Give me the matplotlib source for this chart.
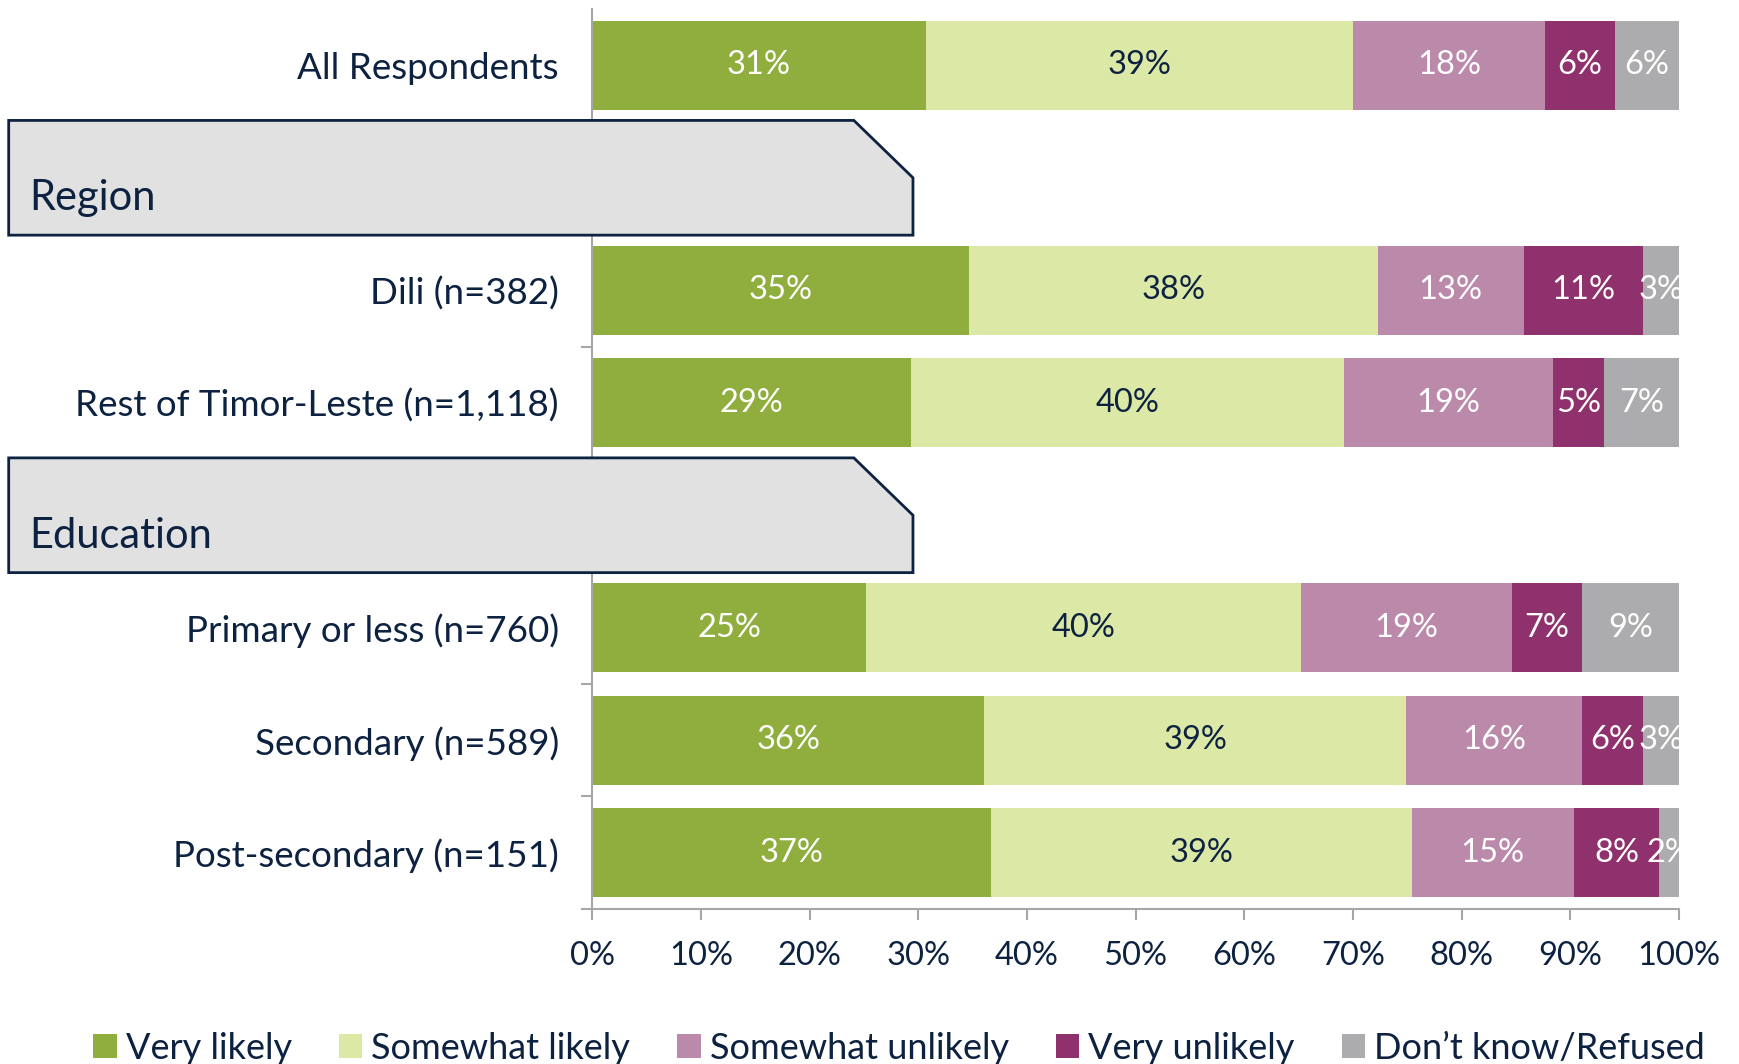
import matplotlib
matplotlib.use("Agg")
import matplotlib.pyplot as plt
import matplotlib.transforms as mtransforms
from matplotlib.patches import Polygon, Patch
import numpy as np

plt.rcParams['font.family'] = ['Lato', 'DejaVu Sans']

rows = ["All Respondents", "Region", "Dili (n=382)", "Rest of Timor-Leste (n=1,118)",
        "Education", "Primary or less (n=760)", "Secondary (n=589)", "Post-secondary (n=151)"]
headers = ["Region", "Education"]
series = ["Very likely", "Somewhat likely", "Somewhat unlikely", "Very unlikely", "Don\u2019t know/Refused"]
colors = ["#8fae3e", "#dce8a6", "#bb89a9", "#8f316c", "#acacae"]
label_colors = ["white", "#0d2240", "white", "white", "white"]

# bar widths (None for header rows)
very_likely = [30.7, None, 34.7, 29.3, None, 25.2, 36.1, 36.7]
somewhat_likely = [39.3, None, 37.6, 39.9, None, 40.0, 38.8, 38.7]
somewhat_unlikely = [17.7, None, 13.4, 19.2, None, 19.4, 16.2, 14.9]
very_unlikely = [6.4, None, 11.0, 4.7, None, 6.5, 5.6, 7.9]
dont_know = [5.9, None, 3.3, 6.9, None, 8.9, 3.3, 1.8]
# printed labels
labels = [
    [31, None, 35, 29, None, 25, 36, 37],
    [39, None, 38, 40, None, 40, 39, 39],
    [18, None, 13, 19, None, 19, 16, 15],
    [6, None, 11, 5, None, 7, 6, 8],
    [6, None, 3, 7, None, 9, 3, 2],
]
values = [very_likely, somewhat_likely, somewhat_unlikely, very_unlikely, dont_know]

navy = "#0d2240"
grid_gray = "#a6a6a6"

fig = plt.figure(figsize=(17.39, 10.64), dpi=100)
ax = fig.add_axes([0.3405, 0.1457, 0.6250, 0.8458])

left = np.zeros(len(rows))
for s, vals in enumerate(values):
    for i, v in enumerate(vals):
        if v is None:
            continue
        ax.barh(i, v, left=left[i], height=0.79, color=colors[s], linewidth=0, zorder=2)
        ax.text(left[i] + v / 2, i, f"{labels[s][i]}%", ha="center", va="center",
                fontsize=23.5, color=label_colors[s], clip_on=True, zorder=3)
        left[i] += v

ax.set_xlim(0, 100)
ax.set_ylim(len(rows) - 0.5, -0.5)
ax.set_xticks(np.arange(0, 101, 10))
ax.set_xticklabels([f"{t}%" for t in range(0, 101, 10)])
ax.set_yticks(range(len(rows)))
ax.set_yticklabels([r if r not in headers else "" for r in rows])
ax.set_yticks(np.arange(0.5, len(rows), 1.0), minor=True)
ax.tick_params(axis="y", which="major", length=0, pad=24, labelsize=26.5, labelcolor=navy)
ax.tick_params(axis="y", which="minor", length=8, color=grid_gray, width=1.5)
ax.tick_params(axis="x", length=8, color=grid_gray, width=1.5, pad=15, labelsize=23.5, labelcolor=navy)
for lbl in ax.get_yticklabels():
    lbl.set_va("center_baseline")
for sp in ["top", "right"]:
    ax.spines[sp].set_visible(False)
for sp in ["left", "bottom"]:
    ax.spines[sp].set_color(grid_gray)
    ax.spines[sp].set_linewidth(1.5)

# header boxes with cut corner
trans = mtransforms.blended_transform_factory(fig.transFigure, ax.transData)
for h in headers:
    r = rows.index(h)
    top, bot = r - 0.51, r + 0.51
    pts = [(0.005, top), (0.491, top), (0.525, r), (0.525, bot), (0.005, bot)]
    poly = Polygon(pts, closed=True, transform=trans, facecolor="#e1e1e1",
                   edgecolor=navy, linewidth=2, clip_on=False, zorder=5)
    fig.add_artist(poly)
    fig.text(0.0166, r + 0.18, h, transform=trans, ha="left", va="center",
             fontsize=30, color=navy, zorder=6)

handles = [Patch(facecolor=c, edgecolor="none") for c in colors]
leg = fig.legend(handles, series, loc="center", bbox_to_anchor=(0.517, 0.015), ncol=5,
                 frameon=False, fontsize=26, handlelength=0.65, handleheight=0.65,
                 handletextpad=0.25, columnspacing=1.3)
for t in leg.get_texts():
    t.set_color(navy)

fig.savefig("out.png", dpi=100)
